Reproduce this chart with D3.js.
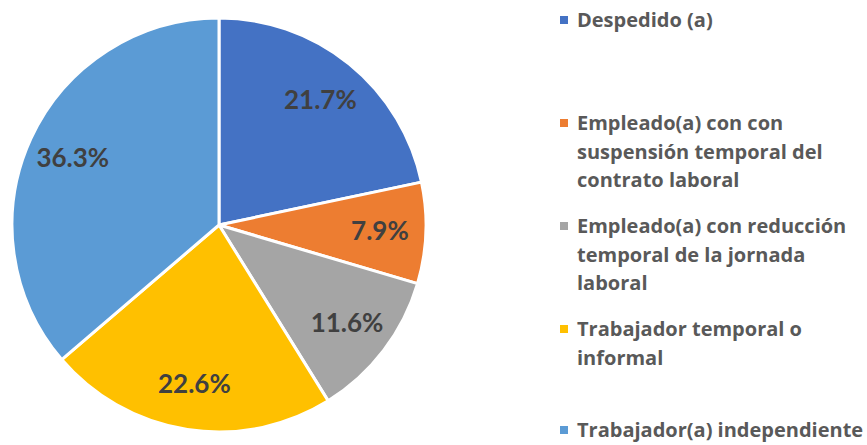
<!DOCTYPE html>
<html>
<head>
<meta charset="utf-8">
<script src="https://cdn.jsdelivr.net/npm/d3@7"></script>
<style>
  body { margin: 0; background: #fff; }
  svg { display: block; }
</style>
</head>
<body>
<svg id="chart"></svg>
<script>
const categories = [
  "Despedido (a)",
  "Empleado(a) con con suspensión temporal del contrato laboral",
  "Empleado(a) con reducción temporal de la jornada laboral",
  "Trabajador temporal o informal",
  "Trabajador(a) independiente"
]
const values = [21.7, 7.9, 11.6, 22.6, 36.3]
const colors = ["#4472C4", "#ED7D31", "#A5A5A5", "#FFC000", "#5B9BD5"]

// legend baselines of the first line of each entry
const legendY = [27, 130, 233, 336, 437]

const W = 867, H = 445
const cx = 219, cy = 225, R = 207

const svg = d3.select("#chart")
  .attr("width", W)
  .attr("height", H)

const data = categories.map((c, i) => ({ name: c, value: values[i], color: colors[i] }))

const pie = d3.pie().sort(null).value(d => d.value)
const arc = d3.arc().innerRadius(0).outerRadius(R)
const labelArc = d3.arc().innerRadius(161).outerRadius(161)

const g = svg.append("g")
  .attr("transform", "translate(" + cx + "," + cy + ")")

g.selectAll("path")
  .data(pie(data))
  .enter()
  .append("path")
  .attr("d", arc)
  .attr("fill", d => d.data.color)
  .attr("stroke", "#fff")
  .attr("stroke-width", 3)
  .attr("stroke-linejoin", "round")

g.selectAll("text.lbl")
  .data(pie(data))
  .enter()
  .append("text")
  .attr("class", "lbl")
  .attr("transform", d => "translate(" + labelArc.centroid(d) + ")")
  .attr("text-anchor", "middle")
  .attr("dy", "0.35em")
  .style("font-family", "Lato, 'Open Sans', sans-serif")
  .style("font-weight", "bold")
  .style("font-size", "26px")
  .style("fill", "#404040")
  .text(d => d.data.value.toFixed(1) + "%")

// legend
const legend = svg.append("g")
const maxW = 290
const lineH = 28.5

data.forEach((d, i) => {
  const item = legend.append("g")
  item.append("rect")
    .attr("x", 560)
    .attr("y", legendY[i] - 11)
    .attr("width", 8)
    .attr("height", 8)
    .attr("fill", d.color)

  const t = item.append("text")
    .attr("x", 577)
    .attr("y", legendY[i])
    .style("font-family", "'Open Sans', sans-serif")
    .style("font-weight", "bold")
    .style("font-size", "20px")
    .style("fill", "#595959")

  // simple word wrap
  const words = d.name.split(" ")
  let line = []
  let ts = t.append("tspan").attr("x", 577).attr("dy", 0)
  words.forEach(w => {
    line.push(w)
    ts.text(line.join(" "))
    if (ts.node().getComputedTextLength() > maxW && line.length > 1) {
      line.pop()
      ts.text(line.join(" "))
      line = [w]
      ts = t.append("tspan").attr("x", 577).attr("dy", lineH).text(w)
    }
  })
})
</script>
</body>
</html>
